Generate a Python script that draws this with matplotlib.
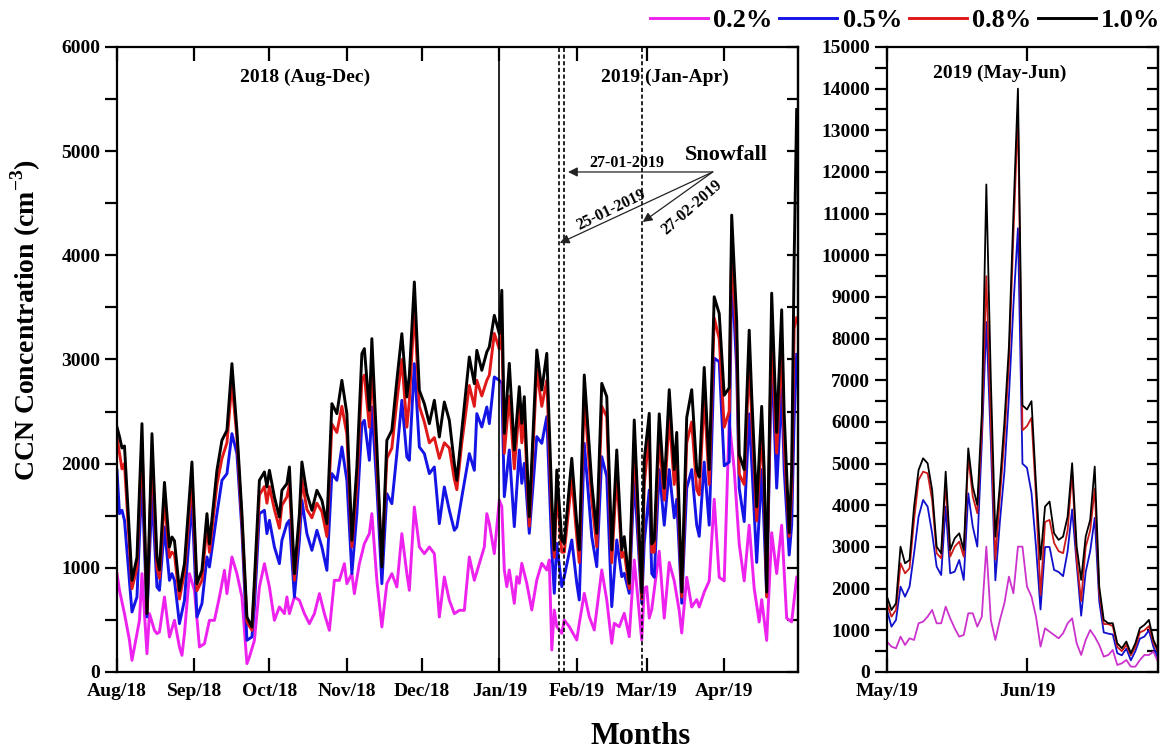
import numpy as np
import matplotlib
matplotlib.use('Agg')
import matplotlib.pyplot as plt
import matplotlib.dates as mdates
from matplotlib.ticker import MultipleLocator

plt.rcParams['font.family'] = ['Liberation Serif', 'DejaVu Serif']
plt.rcParams['font.weight'] = 'bold'
plt.rcParams['mathtext.fontset'] = 'custom'
plt.rcParams['mathtext.rm'] = 'Liberation Serif:bold'
plt.rcParams['mathtext.bf'] = 'Liberation Serif:bold'

# ---- left panel: Aug 2018 - Apr 2019, days counted from 1 Aug 2018 ----
days_left = [0, 1, 2, 3, 6, 8, 10, 12, 14, 16,
             17, 19, 21, 22, 23, 25, 27, 30, 32, 34,
             36, 37, 40, 42, 44, 46, 48, 50, 52, 54,
             55, 57, 59, 60, 61, 63, 65, 66, 68, 69,
             71, 73, 74, 76, 78, 80, 82, 84, 86, 88,
             90, 92, 94, 96, 98, 99, 101, 102, 104, 106,
             108, 110, 112, 114, 116, 117, 119, 121, 123, 125,
             127, 129, 131, 133, 135, 136, 138, 141, 143, 144,
             146, 148, 149, 151, 153, 154, 155, 157, 159, 161,
             162, 163, 165, 168, 170, 172, 174, 175, 176, 178,
             179, 182, 184, 185, 187, 190, 192, 194, 196, 198,
             200, 202, 203, 205, 207, 210, 211, 213, 214, 215,
             217, 219, 221, 223, 224, 226, 228, 230, 232, 233,
             235, 237, 239, 241, 243, 245, 246, 248, 249, 251,
             253, 254, 256, 258, 259, 260, 262, 264, 266, 267,
             269, 270, 271, 272]

ss10_left = [2350, 2260, 2150, 2170, 880, 1100, 2384, 560, 2288, 1100,
             980, 1820, 1200, 1296, 1260, 780, 1040, 2016, 848, 976,
             1520, 1230, 1936, 2224, 2320, 2960, 2320, 1520, 528, 432,
             880, 1840, 1920, 1776, 1936, 1680, 1488, 1744, 1808, 1968,
             944, 1520, 2016, 1712, 1552, 1744, 1648, 1424, 2576, 2480,
             2800, 2480, 1264, 1968, 3056, 3104, 2512, 3200, 2160, 1008,
             2224, 2320, 2800, 3248, 2640, 2848, 3744, 2704, 2576, 2384,
             2608, 2256, 2592, 2416, 2000, 1840, 2320, 3024, 2768, 3088,
             2896, 3072, 3120, 3424, 3248, 3664, 2291, 2963, 2131, 2739,
             2387, 2643, 1491, 3091, 2707, 3059, 1651, 1171, 1939, 1267,
             1235, 2051, 1427, 1171, 2851, 1811, 1331, 2771, 2643, 1171,
             2131, 1171, 1299, 851, 2419, 760, 2035, 2483, 1230, 1266,
             2478, 1765, 2710, 1943, 2300, 767, 2443, 2710, 1943, 1872,
             2924, 1943, 3602, 3441, 2657, 2728, 4386, 3370, 2086, 1943,
             3281, 2657, 1587, 2550, 1943, 767, 3637, 2300, 3477, 2478,
             1337, 1943, 3976, 5400]

ss08_left = [2250, 2100, 1950, 2000, 800, 1000, 2200, 560, 2100, 1000,
             900, 1650, 1100, 1150, 1130, 700, 950, 1850, 780, 880,
             1400, 1150, 1800, 2050, 2200, 2780, 2250, 1450, 480, 400,
             800, 1700, 1780, 1620, 1780, 1560, 1380, 1600, 1680, 1800,
             880, 1420, 1850, 1560, 1480, 1620, 1540, 1300, 2380, 2300,
             2550, 2280, 1200, 1800, 2800, 2850, 2350, 2950, 2000, 1050,
             2050, 2150, 2600, 3000, 2350, 2600, 3500, 2550, 2400, 2200,
             2250, 2050, 2200, 2150, 1850, 1750, 2200, 2750, 2550, 2800,
             2650, 2800, 2850, 3250, 3100, 3300, 2100, 2650, 1950, 2550,
             2200, 2450, 1400, 2900, 2550, 2800, 1500, 1100, 1750, 1150,
             1150, 1850, 1300, 1050, 2650, 1650, 1200, 2550, 2450, 1050,
             1900, 1100, 1150, 800, 2200, 700, 1800, 2300, 1150, 1150,
             2250, 1650, 2450, 1800, 2050, 720, 2200, 2400, 1750, 1700,
             2650, 1800, 3400, 3200, 2350, 2500, 4100, 3150, 1900, 1800,
             3000, 2450, 1450, 2300, 1800, 720, 3300, 2100, 3150, 2200,
             1300, 1750, 3300, 3400]

ss05_left = [1936, 1520, 1552, 1456, 576, 720, 1872, 528, 1712, 816,
             784, 1392, 880, 944, 880, 464, 688, 1648, 528, 656,
             1104, 1008, 1520, 1840, 1904, 2288, 2096, 1360, 304, 336,
             624, 1520, 1552, 1328, 1456, 1200, 1040, 1264, 1424, 1456,
             720, 1264, 1648, 1328, 1168, 1360, 1200, 976, 1904, 1840,
             2160, 1840, 944, 1520, 2384, 2416, 2032, 2544, 1776, 848,
             1712, 1616, 2096, 2608, 2064, 2032, 2960, 2160, 2096, 1904,
             1968, 1424, 1776, 1552, 1360, 1392, 1680, 2096, 1936, 2480,
             2352, 2544, 2384, 2832, 2800, 2771, 1683, 2131, 1395, 2131,
             1811, 2003, 1331, 2259, 2195, 2451, 1171, 755, 1235, 819,
             915, 1267, 851, 691, 2195, 1299, 1011, 2067, 1875, 627,
             1267, 915, 947, 755, 1875, 659, 1235, 1747, 945, 909,
             1943, 1409, 1943, 1480, 1658, 660, 1765, 1943, 1409, 1302,
             2015, 1409, 3013, 2978, 1979, 2015, 3869, 2906, 1765, 1444,
             2478, 2015, 1052, 1943, 1373, 731, 3049, 1765, 2728, 1943,
             1123, 1409, 2443, 3049]

days_left_02 = [0, 1, 3, 5, 6, 7, 9, 10, 11, 12,
                13, 15, 16, 17, 19, 21, 23, 25, 26, 27,
                29, 31, 33, 35, 37, 39, 41, 43, 44, 46,
                48, 50, 52, 53, 55, 57, 59, 61, 63, 65,
                67, 68, 69, 71, 73, 75, 77, 79, 81, 83,
                85, 87, 89, 91, 92, 94, 95, 97, 99, 101,
                102, 104, 106, 108, 110, 112, 114, 116, 117, 119,
                121, 123, 125, 127, 129, 131, 133, 135, 137, 139,
                141, 143, 145, 147, 148, 149, 151, 153, 154, 155,
                156, 157, 159, 160, 161, 162, 164, 166, 168, 170,
                172, 173, 174, 175, 176, 178, 179, 181, 184, 185,
                187, 189, 191, 194, 196, 198, 199, 201, 203, 205,
                207, 210, 211, 212, 213, 214, 217, 219, 221, 223,
                225, 226, 228, 230, 232, 233, 235, 237, 239, 241,
                243, 245, 247, 249, 251, 253, 255, 257, 258, 260,
                262, 264, 266, 268, 270, 272]

ss02_left = [944, 784, 560, 304, 112, 240, 496, 944, 560, 176,
             560, 400, 368, 384, 720, 336, 496, 240, 160, 368,
             944, 784, 240, 272, 496, 496, 720, 976, 752, 1104,
             944, 720, 80, 144, 304, 816, 1040, 816, 496, 624,
             560, 720, 560, 720, 688, 560, 464, 560, 752, 560,
             400, 880, 880, 1040, 848, 944, 752, 1040, 1232, 1328,
             1520, 880, 432, 848, 944, 816, 1328, 944, 784, 1584,
             1200, 1136, 1200, 1136, 528, 912, 688, 560, 592, 592,
             1104, 880, 1040, 1200, 1520, 1424, 1136, 1650, 1587, 979,
             819, 979, 659, 915, 851, 1043, 851, 595, 883, 1043,
             979, 1075, 211, 595, 435, 371, 499, 435, 307, 467,
             755, 531, 403, 979, 691, 275, 467, 435, 563, 339,
             1075, 307, 802, 819, 517, 600, 1159, 517, 1052, 874,
             588, 374, 909, 624, 695, 624, 767, 874, 1658, 909,
             874, 2407, 1943, 1230, 874, 1409, 802, 481, 695, 303,
             1337, 945, 1409, 517, 481, 909]

# ---- right panel: May - Jun 2019, daily from 1 May 2019 ----
ss10_right = [1808, 1488, 1648, 3008, 2608, 2688, 3968, 4848, 5128, 5008,
              4368, 3008, 2848, 4808, 2928, 3208, 3328, 2928, 5368, 4448,
              4008, 6200, 11700, 7000, 3250, 4500, 6000, 7800, 11000, 14000,
              6400, 6300, 6500, 4500, 2700, 3970, 4090, 3330, 3170, 3250,
              3730, 5010, 3010, 2210, 3250, 3650, 4930, 2050, 1250, 1170,
              1170, 690, 570, 730, 450, 690, 1050, 1130, 1250, 770, 530]
ss08_right = [1648, 1328, 1488, 2608, 2368, 2488, 3648, 4608, 4808, 4768,
              4128, 2848, 2728, 4528, 2768, 3008, 3128, 2768, 5168, 4208,
              3808, 5800, 9500, 6000, 2700, 4200, 5600, 7400, 10500, 13400,
              5800, 5900, 6100, 4200, 1850, 3600, 3650, 3100, 2900, 2850,
              3400, 4800, 2700, 1700, 3000, 3400, 4400, 1900, 1150, 1150,
              1100, 600, 500, 650, 400, 600, 950, 1000, 1100, 700, 480]
ss05_right = [1488, 1088, 1248, 2048, 1808, 2048, 2848, 3728, 4128, 3968,
              3328, 2528, 2328, 3968, 2368, 2408, 2688, 2208, 4288, 3488,
              3008, 5500, 8400, 5500, 2200, 3600, 4800, 6600, 8800, 10650,
              5000, 4900, 4300, 3000, 1500, 3000, 3000, 2450, 2400, 2300,
              2900, 3900, 2600, 1350, 2400, 2900, 3700, 1700, 950, 920,
              900, 450, 400, 560, 280, 500, 800, 850, 1000, 600, 350]
ss02_right = [728, 608, 568, 848, 648, 808, 768, 1168, 1208, 1328,
              1488, 1168, 1168, 1568, 1288, 1048, 848, 888, 1408, 1408,
              1088, 1328, 3008, 1248, 768, 1248, 1648, 2288, 1888, 3008,
              3008, 2048, 1808, 1328, 608, 1048, 968, 888, 808, 928,
              1168, 1288, 688, 408, 768, 1008, 848, 648, 368, 408,
              528, 168, 208, 288, 128, 128, 288, 408, 408, 488, 248]

labels = ['0.2%', '0.5%', '0.8%', '1.0%']
colors_left = ['#EE22EE', '#1414E6', '#E01818', '#000000']
colors_right = ['#CC33CC', '#1010CC', '#CC1A1A', '#000000']

snow_days = [177, 179, 210]   # 25-01-2019, 27-01-2019, 27-02-2019

base_left = mdates.date2num(np.datetime64('2018-08-01'))
base_right = mdates.date2num(np.datetime64('2019-05-01'))

fig = plt.figure(figsize=(11.64, 7.53), dpi=100)
ax1 = fig.add_axes([0.1005, 0.1076, 0.585, 0.830])
ax2 = fig.add_axes([0.762, 0.1076, 0.2328, 0.830])

xl = base_left + np.array(days_left)
xl2 = base_left + np.array(days_left_02)
ax1.plot(xl2, ss02_left, color=colors_left[0], lw=2.1, label=labels[0])
ax1.plot(xl, ss05_left, color=colors_left[1], lw=2.1, label=labels[1])
ax1.plot(xl, ss08_left, color=colors_left[2], lw=2.1, label=labels[2])
ax1.plot(xl, ss10_left, color=colors_left[3], lw=2.1, label=labels[3])

xr = base_right + np.arange(len(ss10_right))
ax2.plot(xr, ss02_right, color=colors_right[0], lw=1.3)
ax2.plot(xr, ss05_right, color=colors_right[1], lw=1.3)
ax2.plot(xr, ss08_right, color=colors_right[2], lw=1.3)
ax2.plot(xr, ss10_right, color=colors_right[3], lw=1.3)

ax1.set_xlim(base_left, base_left + 272.5)
ax1.set_ylim(0, 6000)
ax2.set_xlim(base_right, base_right + 60)
ax2.set_ylim(0, 15000)

# year divider and snowfall days
ax1.axvline(base_left + 153, color='black', lw=1.2)
for d in snow_days:
    ax1.axvline(base_left + d, color='black', lw=1.2, ls=(0, (2.5, 1.5)))

for ax in (ax1, ax2):
    for s in ax.spines.values():
        s.set_linewidth(1.6)
    ax.xaxis.set_major_locator(mdates.MonthLocator())
    ax.xaxis.set_major_formatter(mdates.DateFormatter('%b/%y'))
    ax.yaxis.set_major_locator(MultipleLocator(1000))
    ax.yaxis.set_minor_locator(MultipleLocator(500))
    ax.tick_params(axis='x', which='major', direction='in', top=True,
                   length=10, width=1.6, labelsize=14, pad=8)
    ax.tick_params(axis='y', which='both', direction='out', right=False,
                   length=9, width=1.6, labelsize=14, pad=3)
    sec = ax.secondary_yaxis('right')
    sec.yaxis.set_major_locator(MultipleLocator(1000))
    sec.yaxis.set_minor_locator(MultipleLocator(500))
    sec.tick_params(which='both', direction='in', length=8, width=1.6,
                    labelright=False)
    sec.spines['right'].set_linewidth(1.6)

ax1.text(0.276, 0.952, '2018 (Aug-Dec)', transform=ax1.transAxes,
         ha='center', va='center', fontsize=14, fontweight='bold')
ax1.text(0.805, 0.952, '2019 (Jan-Apr)', transform=ax1.transAxes,
         ha='center', va='center', fontsize=14, fontweight='bold')
ax2.text(0.417, 0.958, '2019 (May-Jun)', transform=ax2.transAxes,
         ha='center', va='center', fontsize=14, fontweight='bold')

# snowfall annotation
src = (base_left + 238.4, 4800)
for tip in [(180.5, 4800), (177.2, 4118), (210.4, 4320)]:
    ax1.annotate('', xy=(base_left + tip[0], tip[1]), xytext=src,
                 arrowprops=dict(arrowstyle='-|>', color='#222222', lw=0.9,
                                 mutation_scale=14, shrinkA=0, shrinkB=0))
ax1.text(base_left + 244, 4960, 'Snowfall', ha='center', va='center',
         fontsize=16, fontweight='bold')
ax1.text(base_left + 204, 4890, '27-01-2019', ha='center', va='center',
         fontsize=11.5, fontweight='bold')
ax1.text(base_left + 198, 4435, '25-01-2019', ha='center', va='center',
         fontsize=11.5, fontweight='bold', rotation=26)
ax1.text(base_left + 230, 4464, '27-02-2019', ha='center', va='center',
         fontsize=11.5, fontweight='bold', rotation=41)

fig.text(0.022, 0.575, 'CCN Concentration (cm$^{-3}$)', rotation=90,
         ha='center', va='center', fontsize=20, fontweight='bold')
fig.text(0.55, 0.022, 'Months', ha='center', va='center', fontsize=22,
         fontweight='bold')

handles, labs = ax1.get_legend_handles_labels()
fig.legend(handles, labs, loc='center right', bbox_to_anchor=(0.997, 0.973),
           ncol=4, frameon=False, fontsize=19, handlelength=2.2,
           handletextpad=0.2, columnspacing=0.25, borderaxespad=0,
           borderpad=0)

fig.savefig('out.png', dpi=100)
